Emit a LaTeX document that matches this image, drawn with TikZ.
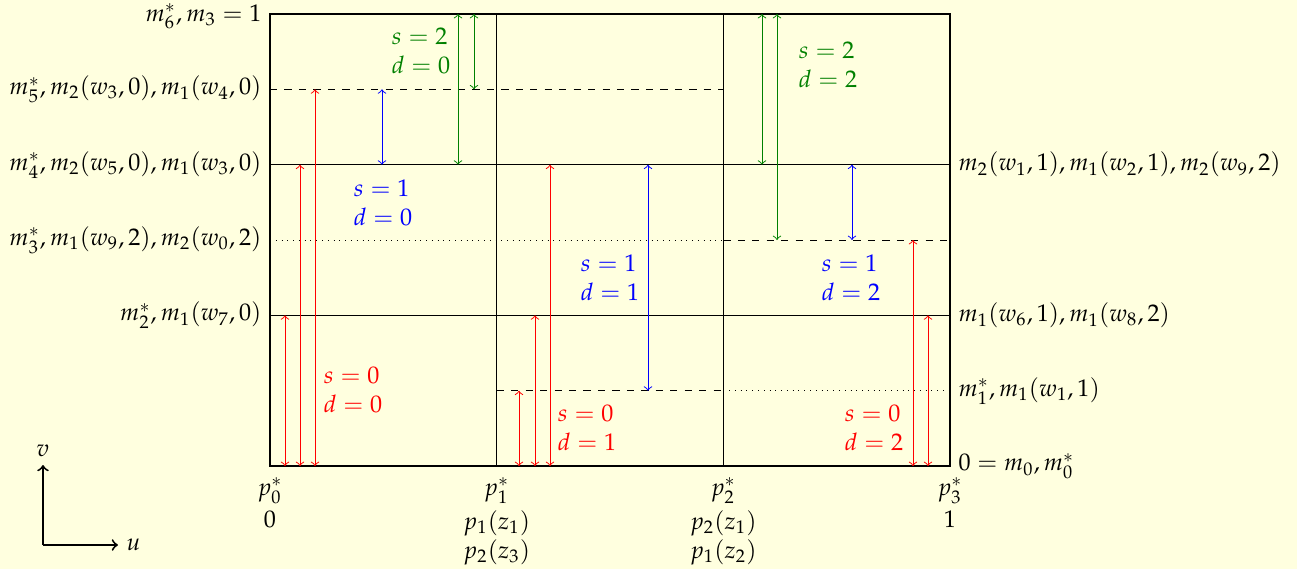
\documentclass[tikz,border=0pt]{standalone}
\usepackage{mathpazo}
\definecolor{bg}{RGB}{255,255,223}
\definecolor{dgreen}{RGB}{0,128,0}
\newcommand\varr[4]{\draw[#1] (#2,0 |- #3) -- (#2,0 |- #4);}
\begin{document}
\begin{tikzpicture}[x=0.415pt,y=-0.415pt,
  grid/.style={line width=0.4pt},
  redarr/.style={<->,line width=0.4pt,red},
  bluearr/.style={<->,line width=0.4pt,blue},
  greenarr/.style={<->,line width=0.4pt,dgreen},
  sd/.style={align=left,inner sep=0pt},
  leftlab/.style={anchor=east},
  rightlab/.style={anchor=west},
  botlab/.style={anchor=north,align=center,yshift=-1.5pt},
  axis/.style={->,thick}]
\fill[bg] (0,0) rectangle (1297,569);
\useasboundingbox (0,0) rectangle (1297,569);
% levels
\coordinate (L0) at (270,466);
\coordinate (L1) at (270,390.7);
\coordinate (L2) at (270,315.3);
\coordinate (L3) at (270,240);
\coordinate (L4) at (270,164.7);
\coordinate (L5) at (270,89.3);
\coordinate (L6) at (270,14);
% inner lines
\draw[grid] (496.7,14) -- (496.7,466);
\draw[grid] (723.3,14) -- (723.3,466);
\draw[grid,dashed] (L5) -- (723.3,0 |- L5);
\draw[grid] (L4) -- (950,0 |- L4);
\draw[semithick] (496.7,0 |- L4) -- (723.3,0 |- L4);
\draw[grid,dotted] (L3) -- (723.3,0 |- L3);
\draw[grid,dashed] (723.3,0 |- L3) -- (950,0 |- L3);
\draw[grid] (L2) -- (950,0 |- L2);
\draw[grid,dashed] (496.7,0 |- L1) -- (723.3,0 |- L1);
\draw[grid,dotted] (723.3,0 |- L1) -- (950,0 |- L1);
% box
\draw[thick] (L6) rectangle (950,466);
% arrows
\varr{redarr}{285}{L0}{L2}
\varr{redarr}{300}{L0}{L4}
\varr{redarr}{315}{L0}{L5}
\varr{redarr}{519}{L0}{L1}
\varr{redarr}{535}{L0}{L2}
\varr{redarr}{550}{L0}{L4}
\varr{redarr}{913}{L0}{L3}
\varr{redarr}{928}{L0}{L2}
\varr{bluearr}{382}{L4}{L5}
\varr{bluearr}{648}{L4}{L1}
\varr{bluearr}{852}{L4}{L3}
\varr{greenarr}{458}{L6}{L4}
\varr{greenarr}{474}{L6}{L5}
\varr{greenarr}{762}{L6}{L4}
\varr{greenarr}{777}{L6}{L3}
% s,d labels
\node[sd,text=dgreen] (g0) at (421,51) {$s=2$\\$d=0$};
\node[sd,text=dgreen] (g2) at (828,65) {$s=2$\\$d=2$};
\node[sd,text=blue] (b0) at (383,203) {$s=1$\\$d=0$};
\node[sd,text=blue] (b1) at (610,278) {$s=1$\\$d=1$};
\node[sd,text=blue] (b2) at (851,278) {$s=1$\\$d=2$};
\node[sd,text=red] (r0) at (353,390) {$s=0$\\$d=0$};
\node[sd,text=red] (r1) at (587,428) {$s=0$\\$d=1$};
\node[sd,text=red] (r2) at (874,428) {$s=0$\\$d=2$};
% left labels
\node[leftlab] (ll6) at ([yshift=-1pt]L6) {$m_6^*, m_3 = 1$};
\node[leftlab] (ll5) at (L5) {$m_5^*, m_2(w_3,0), m_1(w_4,0)$};
\node[leftlab] (ll4) at (L4) {$m_4^*, m_2(w_5,0), m_1(w_3,0)$};
\node[leftlab] (ll3) at (L3) {$m_3^*, m_1(w_9,2), m_2(w_0,2)$};
\node[leftlab] (ll2) at (L2) {$m_2^*, m_1(w_7,0)$};
% right labels
\node[rightlab] (rl4) at (950,0 |- L4) {$m_2(w_1,1), m_1(w_2,1), m_2(w_9,2)$};
\node[rightlab] (rl2) at (950,0 |- L2) {$m_1(w_6,1), m_1(w_8,2)$};
\node[rightlab] (rl1) at (950,0 |- L1) {$m_1^*, m_1(w_1,1)$};
\node[rightlab] (rl0) at (950,0 |- L0) {$0 = m_0, m_0^*$};
% bottom labels
\node[botlab] (p0) at (L0) {$p_0^*$\\[1pt]$0$};
\node[botlab] (p1) at (496.7,466) {$p_1^*$\\[2pt]$p_1(z_1)$\\$p_2(z_3)$};
\node[botlab] (p2) at (723.3,466) {$p_2^*$\\[2pt]$p_2(z_1)$\\$p_1(z_2)$};
\node[botlab] (p3) at (950,466) {$p_3^*$\\[1pt]$1$};
% axes
\coordinate (O) at (43,545);
\coordinate (V) at (43,465);
\coordinate (U) at (118,545);
\draw[axis] (O) -- (V);
\draw[axis] (O) -- (U);
\node[above] (vl) at (V) {$v$};
\node[right] (ul) at (U) {$u$};
\end{tikzpicture}
\end{document}
